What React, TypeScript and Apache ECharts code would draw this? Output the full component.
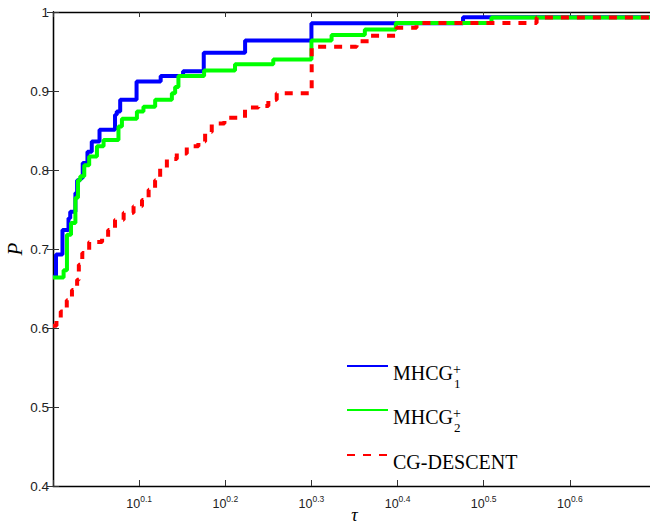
import React, { useEffect, useRef } from 'react';
import * as echarts from 'echarts';

// x values are log10(tau); y values are P(tau)
const seriesNames = ['MHCG1+', 'MHCG2+', 'CG-DESCENT'];
const seriesColors = ['#0000ff', '#00ff00', '#ff0000'];

const mhcg1LogTau = [0, 0.0035, 0.011, 0.018, 0.020, 0.026, 0.028, 0.0317, 0.0345, 0.040, 0.045, 0.054, 0.072, 0.074, 0.078, 0.097, 0.125, 0.151, 0.175, 0.223, 0.300, 0.476, 0.7];
const mhcg1P = [0.665, 0.693, 0.724, 0.739, 0.747, 0.771, 0.787, 0.790, 0.809, 0.823, 0.836, 0.851, 0.870, 0.874, 0.889, 0.912, 0.919, 0.925, 0.9485, 0.964, 0.9857, 0.9934, 0.9934];

const mhcg2LogTau = [0, 0.0123, 0.0162, 0.0209, 0.026, 0.029, 0.0317, 0.0363, 0.042, 0.051, 0.0587, 0.076, 0.080, 0.0974, 0.105, 0.1186, 0.138, 0.1418, 0.1456, 0.1754, 0.2113, 0.2557, 0.300, 0.3234, 0.362, 0.398, 0.509, 0.7];
const mhcg2P = [0.664, 0.673, 0.718, 0.733, 0.765, 0.787, 0.792, 0.806, 0.817, 0.830, 0.838, 0.855, 0.865, 0.874, 0.880, 0.889, 0.897, 0.905, 0.919, 0.926, 0.934, 0.940, 0.964, 0.971, 0.978, 0.986, 0.993, 0.993];

const cgLogTau = [0, 0.004, 0.009, 0.016, 0.022, 0.028, 0.030, 0.034, 0.042, 0.057, 0.064, 0.072, 0.082, 0.0935, 0.1033, 0.111, 0.1185, 0.1244, 0.1322, 0.1437, 0.1553, 0.1688, 0.1766, 0.1843, 0.199, 0.2229, 0.2384, 0.25, 0.2597, 0.3003, 0.3524, 0.3678, 0.3988, 0.422, 0.5614, 0.7];
const cgP = [0.603, 0.612, 0.621, 0.635, 0.648, 0.661, 0.680, 0.695, 0.709, 0.714, 0.724, 0.737, 0.746, 0.754, 0.762, 0.775, 0.787, 0.802, 0.814, 0.821, 0.830, 0.836, 0.848, 0.859, 0.866, 0.879, 0.881, 0.889, 0.897, 0.956, 0.963, 0.970, 0.980, 0.986, 0.993, 0.993];

const xTickExponents = ['0.1', '0.2', '0.3', '0.4', '0.5', '0.6'];
const yTickLabels = ['0.4', '0.5', '0.6', '0.7', '0.8', '0.9', '1'];

const legendTops = [337.5, 381.5, 433];

function zip(xs: number[], ys: number[]) {
  return xs.map((x, i) => [x, ys[i]]);
}

export default function App() {
  const ref = useRef<HTMLDivElement>(null);
  useEffect(() => {
    if (!ref.current) return;
    const chart = echarts.init(ref.current, undefined, { renderer: 'svg' });
    const allData = [zip(mhcg1LogTau, mhcg1P), zip(mhcg2LogTau, mhcg2P), zip(cgLogTau, cgP)];
    const legendRich = {
      m: { fontFamily: 'Liberation Serif', fontSize: 20, lineHeight: 20, color: '#000', padding: [14, 0, 0, 0], verticalAlign: 'middle' },
      sp: { fontFamily: 'Liberation Serif', fontSize: 14, lineHeight: 14, color: '#000', width: 1, padding: [7, 0, 0, 0], verticalAlign: 'middle' },
      sb: { fontFamily: 'Liberation Serif', fontSize: 13, lineHeight: 13, color: '#000', padding: [34, 0, 0, 0], verticalAlign: 'middle' },
    };
    const legendFormatter = (name: string) => {
      if (name === 'MHCG1+') return '{m|MHCG}{sp|+}{sb|1}';
      if (name === 'MHCG2+') return '{m|MHCG}{sp|+}{sb|2}';
      return '{m|' + name + '}';
    };
    const axisLineStyle = { color: '#000', width: 1.3 };
    chart.setOption({
      animation: false,
      backgroundColor: '#fff',
      grid: { left: 53, top: 12, width: 603, height: 474, outerBoundsMode: 'none', containLabel: false },
      legend: seriesNames.map((name, i) => ({
        data: [name],
        left: 341,
        top: legendTops[i],
        orient: 'vertical',
        itemWidth: 41,
        itemHeight: 14,
        selectedMode: false,
        formatter: legendFormatter,
        textStyle: { rich: legendRich },
        itemStyle: { opacity: 0, borderWidth: 0, color: 'transparent' },
      })),
      xAxis: [
        {
          type: 'value',
          min: 0,
          max: 0.7,
          interval: 0.1,
          position: 'bottom',
          name: 'τ',
          nameLocation: 'middle',
          nameGap: 22,
          nameMoveOverlap: false,
          nameTextStyle: { fontFamily: 'Liberation Serif', fontStyle: 'italic', fontSize: 18, lineHeight: 14, color: '#000' },
          axisLine: { lineStyle: axisLineStyle },
          axisTick: { inside: true, length: 6, lineStyle: { color: '#333' } },
          splitLine: { show: false },
          axisLabel: {
            margin: 11,
            formatter: (v: number) => {
              const k = Math.round(v * 10);
              if (k < 1 || k > 6) return '';
              return '{b|10}{s|' + xTickExponents[k - 1] + '}';
            },
            rich: {
              b: { fontFamily: 'Liberation Sans', fontSize: 12.5, lineHeight: 14, color: '#222', verticalAlign: 'middle' },
              s: { fontFamily: 'Liberation Sans', fontSize: 8.5, lineHeight: 10, color: '#222', padding: [0, 0, 10, 0], verticalAlign: 'middle' },
            },
          },
        },
        {
          type: 'value',
          min: 0,
          max: 0.7,
          interval: 0.1,
          position: 'top',
          axisLine: { lineStyle: axisLineStyle },
          axisTick: { inside: true, length: 5, lineStyle: { color: '#333' } },
          axisLabel: { show: false },
          splitLine: { show: false },
        },
      ],
      yAxis: [
        {
          type: 'value',
          min: 0.4,
          max: 1,
          interval: 0.1,
          position: 'left',
          name: 'P',
          nameLocation: 'middle',
          nameGap: 28,
          nameMoveOverlap: false,
          nameTextStyle: { fontFamily: 'Liberation Serif', fontStyle: 'italic', fontSize: 21, color: '#000' },
          axisLine: { lineStyle: axisLineStyle },
          axisTick: { inside: true, length: 6, lineStyle: { color: '#333' } },
          splitLine: { show: false },
          axisLabel: {
            margin: 4,
            fontFamily: 'Liberation Sans',
            fontSize: 13.5,
            color: '#222',
            formatter: (v: number) => {
              const k = Math.round((v - 0.4) * 10);
              return yTickLabels[k] ?? '';
            },
          },
        },
        {
          type: 'value',
          min: 0.4,
          max: 1,
          interval: 0.1,
          position: 'right',
          axisLine: { show: true, lineStyle: axisLineStyle },
          axisTick: { show: true, inside: true, length: 6, lineStyle: { color: '#333' } },
          axisLabel: { show: false },
          splitLine: { show: false },
        },
      ],
      series: seriesNames.map((name, i) => ({
        name,
        type: 'line',
        step: 'end',
        xAxisIndex: 0,
        yAxisIndex: 0,
        data: allData[i],
        showSymbol: false,
        symbol: 'none',
        z: 2 + i,
        lineStyle: {
          color: seriesColors[i],
          width: 4,
          type: i === 2 ? [8, 8] : 'solid',
          cap: 'butt',
        },
        itemStyle: { color: seriesColors[i] },
      })),
    });
    return () => chart.dispose();
  }, []);
  return (
    <div style={{ position: 'absolute', left: 0, top: 0, width: 650, height: 526, overflow: 'hidden', background: '#fff' }}>
      <div ref={ref} style={{ width: 660, height: 526 }} />
    </div>
  );
}
